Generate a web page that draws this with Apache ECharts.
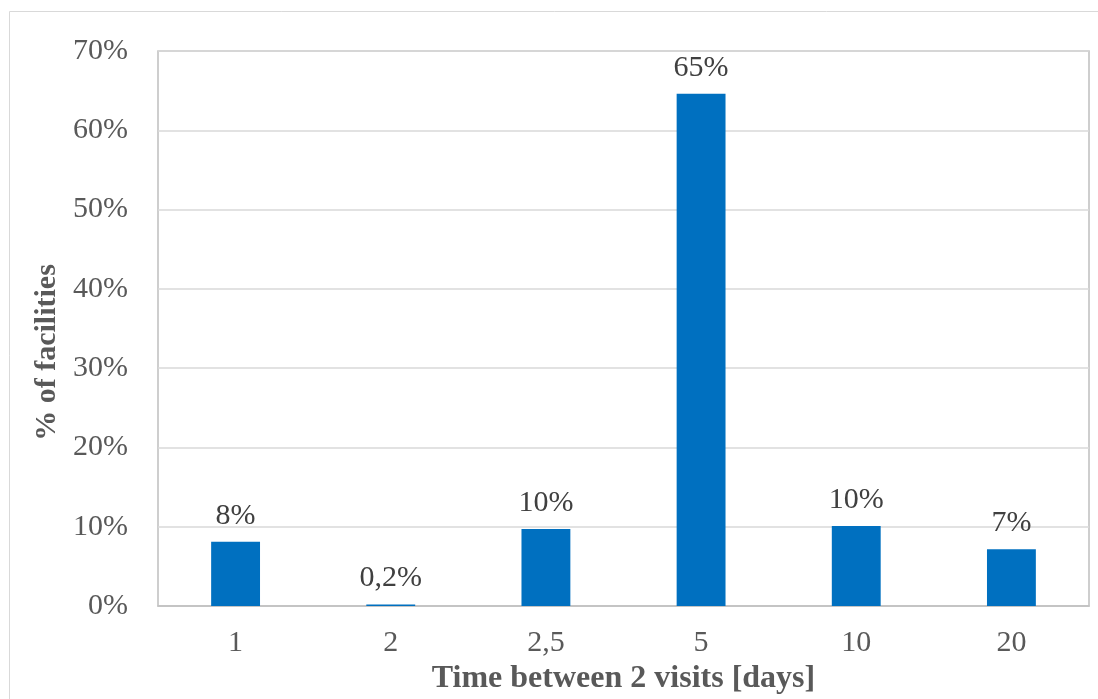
<!DOCTYPE html>
<html><head><meta charset="utf-8">
<script src="https://cdn.jsdelivr.net/npm/echarts@6/dist/echarts.min.js"></script>
<style>html,body{margin:0;padding:0;background:#fff}#c{width:1098px;height:699px}</style>
</head><body><div id="c"></div>
<script>
const categories = ['1', '2', '2,5', '5', '10', '20'];
const values = [8.1, 0.2, 9.7, 64.6, 10.1, 7.15];
const labels = ['8%', '0,2%', '10%', '65%', '10%', '7%'];
const yTicks = [0, 10, 20, 30, 40, 50, 60, 70];

const font = 'Liberation Serif, Times New Roman, serif';
const chart = echarts.init(document.getElementById('c'));
chart.setOption({
  animation: false,
  graphic: [{type: 'rect', shape: {x: 9.5, y: 11.5, width: 1200, height: 800},
    style: {fill: 'none', stroke: '#d9d9d9', lineWidth: 1}, silent: true, z: -10}],
  grid: {left: 158, top: 51, width: 931, height: 555, show: true, borderColor: '#bfbfbf', borderWidth: 1.5,
    containLabel: false, outerBoundsMode: 'none'},
  xAxis: {
    type: 'category', data: categories,
    name: 'Time between 2 visits [days]', nameLocation: 'middle', nameGap: 57,
    nameTextStyle: {fontFamily: font, fontSize: 32, fontWeight: 'bold', color: '#595959'},
    axisLine: {lineStyle: {color: '#bfbfbf', width: 1.5}},
    axisTick: {show: false},
    axisLabel: {fontFamily: font, fontSize: 30, color: '#595959', margin: 22}
  },
  yAxis: {
    type: 'value', min: 0, max: 70, interval: 10,
    name: '% of facilities', nameLocation: 'middle', nameGap: 91,
    nameTextStyle: {fontFamily: font, fontSize: 30, fontWeight: 'bold', color: '#595959', padding: [0, 48, 0, 0]},
    axisLine: {show: false}, axisTick: {show: false},
    splitLine: {lineStyle: {color: '#d9d9d9', width: 1.5}},
    axisLabel: {fontFamily: font, fontSize: 30, color: '#595959', margin: 30,
      formatter: v => yTicks.includes(v) ? v + '%' : ''}
  },
  series: [{
    type: 'bar', data: values, barWidth: '31.5%',
    itemStyle: {color: '#0070C0'},
    label: {show: true, position: 'top', distance: 11, fontFamily: font, fontSize: 30, color: '#404040',
      formatter: p => labels[p.dataIndex]}
  }]
});
</script></body></html>
